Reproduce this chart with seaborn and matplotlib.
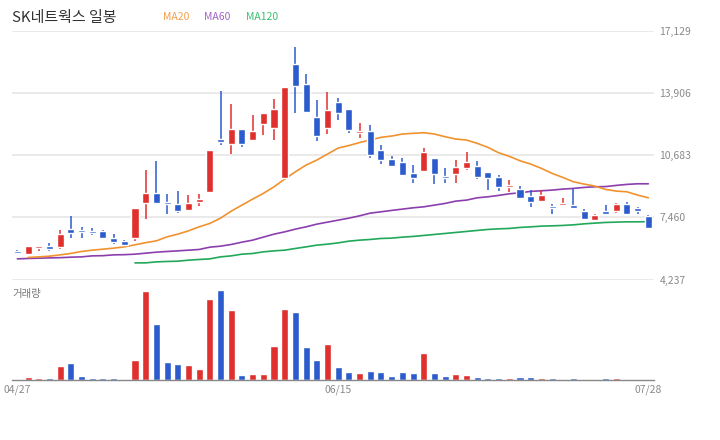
import numpy as np
import pandas as pd
import seaborn as sns
import matplotlib
matplotlib.use("Agg")
import matplotlib.pyplot as plt

# Daily candles (60 trading days, 04/27 .. 07/28)
opens = [5708, 5552, 5864, 5968, 5916, 6852, 6800, 6764, 6748, 6384,
         6228, 6384, 8203, 8723, 8255, 8151, 7855, 8271, 8790, 11530,
         11285, 12050, 11478, 12325, 12117, 9518, 15428, 14389, 12673, 12117,
         13453, 13089, 11857, 11946, 10958, 10490, 10334, 9762, 9882, 10542,
         9606, 9726, 10038, 10126, 9814, 9554, 9050, 8931, 8567, 8323,
         8047, 8115, 8099, 7787, 7335, 7787, 7787, 8151, 7943, 7527]
highs = [5760, 5968, 5968, 6109, 6800, 7527, 6956, 6904, 6800, 6592,
         6280, 7943, 9918, 10386, 8671, 8827, 8619, 8671, 10958, 14026,
         13349, 12050, 12778, 12881, 13609, 14233, 16312, 14909, 13557, 13973,
         13661, 13089, 12361, 12257, 11218, 10646, 10542, 10178, 11062, 10542,
         10022, 10438, 10854, 10386, 9814, 9658, 9398, 9087, 8879, 8879,
         8151, 8463, 8915, 7891, 7631, 8099, 8203, 8255, 7995, 7579]
lows = [5568, 5552, 5708, 5724, 5812, 6400, 6400, 6540, 6332, 6072,
        6020, 6228, 7387, 8219, 7647, 7699, 7803, 8047, 8723, 11218,
        10766, 11130, 11478, 11753, 11478, 9518, 12897, 12897, 11441, 11805,
        12533, 11857, 11598, 10558, 10246, 10090, 9622, 9258, 9830, 9206,
        9258, 9258, 9934, 9466, 8894, 8842, 8790, 8479, 8011, 8323,
        7647, 8115, 7907, 7335, 7283, 7647, 7667, 7647, 7647, 6919]
closes = [5604, 5968, 5968, 5812, 6592, 6660, 6696, 6644, 6384, 6176,
          6020, 7943, 8723, 8219, 8167, 7803, 8203, 8411, 10958, 11374,
          12050, 11285, 11946, 12881, 13089, 14233, 14300, 12949, 11686, 13037,
          12897, 12013, 11961, 10714, 10454, 10142, 9674, 9518, 10854, 9726,
          9518, 10074, 10334, 9570, 9518, 9050, 9154, 8479, 8271, 8619,
          7959, 8219, 7959, 7387, 7579, 7647, 8151, 7647, 7803, 6919]
volumes = [1, 3, 2, 2, 14, 17, 4, 2, 2, 2,
           1, 20, 89, 56, 18, 16, 15, 11, 81, 90,
           70, 5, 6, 6, 34, 71, 68, 33, 20, 36,
           13, 8, 7, 9, 8, 4, 8, 7, 27, 7,
           4, 6, 5, 3, 2, 2, 2, 3, 3, 2,
           2, 1, 2, 1, 1, 2, 2, 1, 0.3, 1]

ma20 = [np.nan, 5381, 5412, 5448, 5516, 5589, 5692, 5760, 5812, 5864,
        5932, 6036, 6150, 6243, 6451, 6592, 6763, 6971, 7148, 7423,
        7787, 8099, 8411, 8707, 9050, 9451, 9830, 10178, 10438, 10750,
        11062, 11192, 11348, 11478, 11618, 11686, 11790, 11826, 11857, 11790,
        11649, 11530, 11478, 11306, 11098, 10818, 10631, 10402, 10230, 10007,
        9747, 9539, 9310, 9191, 9087, 8915, 8827, 8790, 8619, 8479]
ma60 = [5308, 5329, 5344, 5360, 5370, 5396, 5412, 5464, 5474, 5516,
        5526, 5552, 5604, 5656, 5692, 5724, 5760, 5796, 5916, 5968,
        6056, 6176, 6280, 6436, 6592, 6711, 6852, 6971, 7111, 7215,
        7319, 7423, 7543, 7683, 7751, 7824, 7891, 7959, 8011, 8099,
        8187, 8307, 8359, 8479, 8531, 8603, 8687, 8739, 8811, 8843,
        8879, 8931, 8967, 9019, 9050, 9061, 9123, 9175, 9206, 9206]
ma120 = [np.nan] * 11 + [
         5100, 5100, 5152, 5173, 5188, 5240, 5277, 5308, 5412,
         5464, 5552, 5588, 5672, 5724, 5760, 5848, 5932, 6020, 6072,
         6139, 6228, 6280, 6316, 6368, 6384, 6436, 6472, 6524, 6576,
         6628, 6680, 6732, 6784, 6836, 6867, 6888, 6940, 6971, 7008,
         7023, 7044, 7075, 7127, 7164, 7200, 7215, 7231, 7231, 7241]

date_ticks = [0, 30, 59]
date_labels = ["04/27", "06/15", "07/28"]
price_ticks = [4237, 7460, 10683, 13906, 17129]

RED = "#e0302e"
BLUE = "#2b5bcc"

df = pd.DataFrame({"open": opens, "high": highs, "low": lows, "close": closes,
                   "volume": volumes, "ma20": ma20, "ma60": ma60, "ma120": ma120})
df["idx"] = np.arange(len(df))
df["color"] = np.where(df["close"] >= df["open"], RED, BLUE)

sns.set_theme(style="white")
plt.rcParams["font.family"] = ["Noto Sans CJK KR", "DejaVu Sans"]

fig = plt.figure(figsize=(7.2, 4.4), dpi=100)
ax = fig.add_axes([12 / 720, 1 - 279.5 / 440, 642 / 720, 248.3 / 440])
axv = fig.add_axes([12 / 720, 1 - 380 / 440, 642 / 720, 100 / 440])

# moving averages
for col, c in [("ma120", "#22a85a"), ("ma60", "#8b3fae"), ("ma20", "#f0922e")]:
    d = df.dropna(subset=[col])
    sns.lineplot(x=d["idx"], y=d[col], ax=ax, color=c, lw=1.2, zorder=2)

# candles
ax.vlines(df["idx"], df["low"], df["high"], colors=df["color"], lw=1.1, zorder=3)
body = np.maximum((df["close"] - df["open"]).abs(), 85)
ax.bar(df["idx"], body, bottom=np.minimum(df["open"], df["close"]),
       width=0.66, color=df["color"], zorder=4)

ax.set_xlim(-0.5, 59.53)
ax.set_ylim(4237, 17129)
ax.set_yticks(price_ticks)
ax.set_yticklabels([f"{v:,}" for v in price_ticks])
ax.yaxis.tick_right()
ax.tick_params(axis="y", length=0, pad=4, labelsize=7.5, labelcolor="#8a8a8a")
ax.set_xticks([])
ax.set_xlabel("")
ax.set_ylabel("")
ax.grid(axis="y", color="#e6e6e6", lw=1.2)
ax.set_axisbelow(True)
for s in ax.spines.values():
    s.set_visible(False)

# volume
axv.bar(df["idx"], df["volume"], width=0.66, color=df["color"])
axv.set_xlim(-0.5, 59.53)
axv.set_ylim(0, 100)
axv.set_yticks([])
axv.set_xticks(date_ticks)
axv.set_xticklabels(date_labels)
axv.tick_params(axis="x", length=0, pad=3, labelsize=7.5, labelcolor="#8a8a8a")
for s in ["top", "left", "right"]:
    axv.spines[s].set_visible(False)
axv.spines["bottom"].set_color("#888888")
axv.spines["bottom"].set_linewidth(1)
axv.text(0, 0.86, "거래량", transform=axv.transAxes, fontsize=7.5,
         color="#777777", ha="left", va="center")

# header
fig.text(12 / 720, 1 - 18 / 440, "SK네트웍스 일봉", fontsize=10.8, color="#333333",
         ha="left", va="center")
for label, xpos, c in [("MA20", 163, "#f0a04a"), ("MA60", 204, "#a263c6"),
                       ("MA120", 246, "#3cbf6e")]:
    fig.text(xpos / 720, 1 - 17 / 440, label, fontsize=7.5, color=c,
             ha="left", va="center")

fig.savefig("out.png", dpi=100)
